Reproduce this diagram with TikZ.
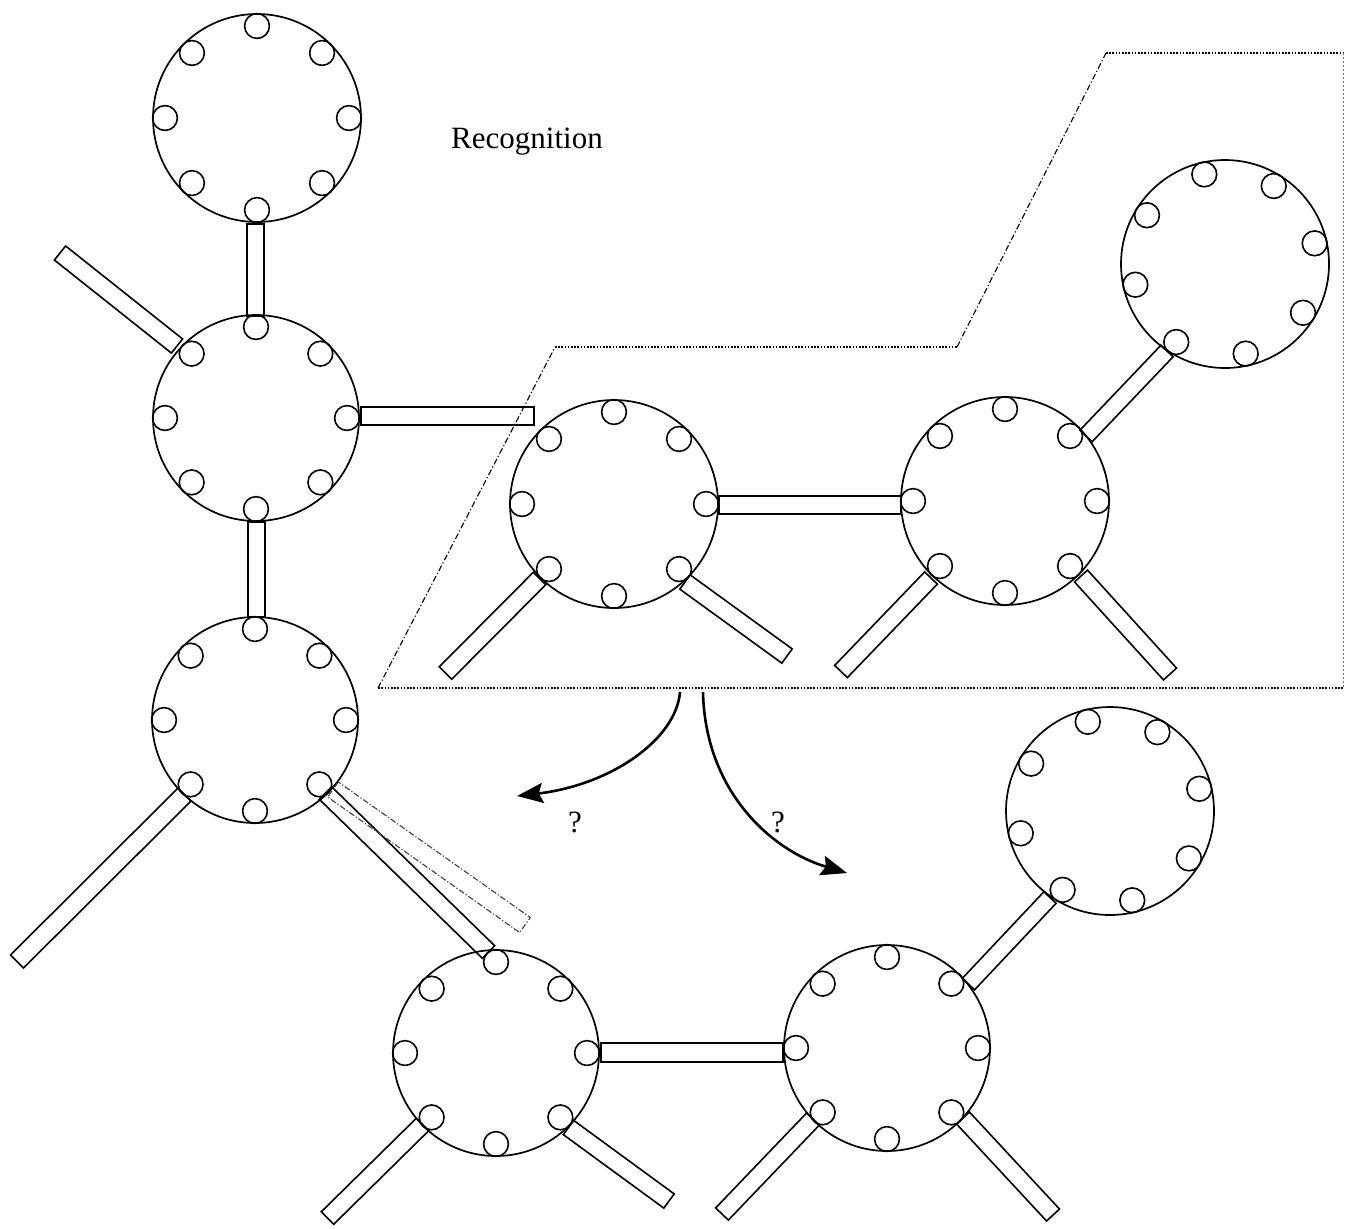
\documentclass[tikz,border=0pt]{standalone}
\usepackage{fontspec}
\setmainfont{Liberation Serif}
\usetikzlibrary{calc,arrows.meta}
\newcommand{\mol}[4]{% name, centre, R (pt), rotation
  \coordinate (#1) at (#2);
  \draw[bigc] (#1) circle[radius=#3pt];
  \foreach \k in {0,...,7}{%
    \pgfmathsetmacro\aa{#4+45*\k}%
    \pgfmathsetmacro\dd{#3-6}%
    \draw[smallc] ($(#1)+(\aa:\dd pt)$) circle[radius=6.2pt];
  }%
}
\newcommand{\mybar}[4][]{% opts, A, B, half width
  \draw[barst,#1] ($(#2)!#4!90:(#3)$) -- ($(#2)!#4!-90:(#3)$) -- ($(#3)!#4!90:(#2)$) -- ($(#3)!#4!-90:(#2)$) -- cycle;
}
\begin{document}
\begin{tikzpicture}[x=0.5pt,y=-0.5pt,
  bigc/.style={line width=0.85pt},
  smallc/.style={line width=0.8pt},
  barst/.style={line width=0.8pt, line join=miter},
  ghost/.style={line width=0.55pt, dash pattern=on 3pt off 1pt on 0.6pt off 1pt, black!75},
  slant/.style={line width=0.55pt, dash pattern=on 3pt off 1.2pt on 0.6pt off 1.2pt},
  dots/.style={line width=0.6pt, dash pattern=on 0.8pt off 0.8pt},
  faint/.style={line width=0.5pt, dash pattern=on 0.8pt off 1.2pt, black!55},
  arr/.style={line width=1.3pt, -{Stealth[length=13pt,width=10pt,inset=2pt]}},
  lbl/.style={font=\fontsize{15.5}{18}\selectfont, inner sep=0pt}
]
\useasboundingbox (0,0) rectangle (1354,1228);

% recognition region
\coordinate (p1) at (378,688);
\coordinate (p2) at (555,347);
\coordinate (p3) at (957,347);
\coordinate (p4) at (1106,53);
\coordinate (p5) at (1343,53);
\coordinate (p6) at (1343,688);
\draw[slant] (p1) -- (p2);
\draw[dots] (p2) -- (p3);
\draw[slant] (p3) -- (p4);
\draw[dots] (p4) -- (p5);
\draw[faint] (p5) -- (p6);
\draw[dots] (p6) -- (p1);

% molecules
\mol{C1}{257,118}{52}{0}
\mol{C2}{256,418}{51.5}{0}
\mol{C3}{255,720}{51.5}{0}
\mol{C4}{496,1053}{51.5}{0}
\mol{C5}{887,1048}{51.5}{0}
\mol{C6}{1110,811}{52}{14}
\mol{C7}{614,504}{52}{0}
\mol{C8}{1225,264}{52}{13}
\mol{C9}{1005,501}{52}{0}

% bar end points
\coordinate (b1a) at (255.5,224);  \coordinate (b1b) at (255.5,316);
\coordinate (b2a) at (256.5,522);  \coordinate (b2b) at (256.5,617);
\coordinate (b3a) at (177,346);    \coordinate (b3b) at (60,253);
\coordinate (b4a) at (361,416);    \coordinate (b4b) at (534,416);
\coordinate (b5a) at (184.5,794.5);\coordinate (b5b) at (17,961.5);
\coordinate (b6a) at (325.5,793);  \coordinate (b6b) at (488.5,952);
\coordinate (b7a) at (333,789.5);  \coordinate (b7b) at (525,925);
\coordinate (b8a) at (422.5,1124.5);\coordinate (b8b) at (327.5,1218);
\coordinate (b9a) at (568.5,1127.5);\coordinate (b9b) at (669,1201);
\coordinate (b10a) at (601,1052.5);\coordinate (b10b) at (783,1052.5);
\coordinate (b11a) at (813,1119);  \coordinate (b11b) at (722,1214);
\coordinate (b12a) at (963,1118);  \coordinate (b12b) at (1053,1215);
\coordinate (b13a) at (968.5,984); \coordinate (b13b) at (1050,897.5);
\coordinate (b14a) at (539.5,578.5);\coordinate (b14b) at (445.5,673);
\coordinate (b15a) at (685,582);   \coordinate (b15b) at (787,656);
\coordinate (b16a) at (719,505);   \coordinate (b16b) at (901,505);
\coordinate (b17a) at (931,578);   \coordinate (b17b) at (841,671.5);
\coordinate (b18a) at (1081,576);  \coordinate (b18b) at (1170,674);
\coordinate (b19a) at (1086,436);  \coordinate (b19b) at (1167,351);

\mybar{b1a}{b1b}{4.2pt}
\mybar{b2a}{b2b}{4.2pt}
\mybar{b3a}{b3b}{4.5pt}
\mybar{b4a}{b4b}{4.5pt}
\mybar{b5a}{b5b}{4.6pt}
\mybar{b6a}{b6b}{4.4pt}
\mybar[ghost]{b7a}{b7b}{4.6pt}
\mybar{b8a}{b8b}{4.4pt}
\mybar{b9a}{b9b}{4.4pt}
\mybar{b10a}{b10b}{4.7pt}
\mybar{b11a}{b11b}{4.4pt}
\mybar{b12a}{b12b}{4.4pt}
\mybar{b13a}{b13b}{4.2pt}
\mybar{b14a}{b14b}{4.4pt}
\mybar{b15a}{b15b}{4.4pt}
\mybar{b16a}{b16b}{4.5pt}
\mybar{b17a}{b17b}{4.4pt}
\mybar{b18a}{b18b}{4.4pt}
\mybar{b19a}{b19b}{4.2pt}

% arrows
\coordinate (a1s) at (680,692);  \coordinate (a1e) at (517,796);
\coordinate (a2s) at (703,692);  \coordinate (a2e) at (847,873);
\draw[arr] (a1s) .. controls (676,740) and (610,785) .. (a1e);
\draw[arr] (a2s) .. controls (705,790) and (770,850) .. (a2e);

% labels
\node[lbl, anchor=base] (rec) at (527,148) {Recognition};
\node[lbl] (q1) at (575,822) {?};
\node[lbl] (q2) at (778,822) {?};
\end{tikzpicture}
\end{document}
